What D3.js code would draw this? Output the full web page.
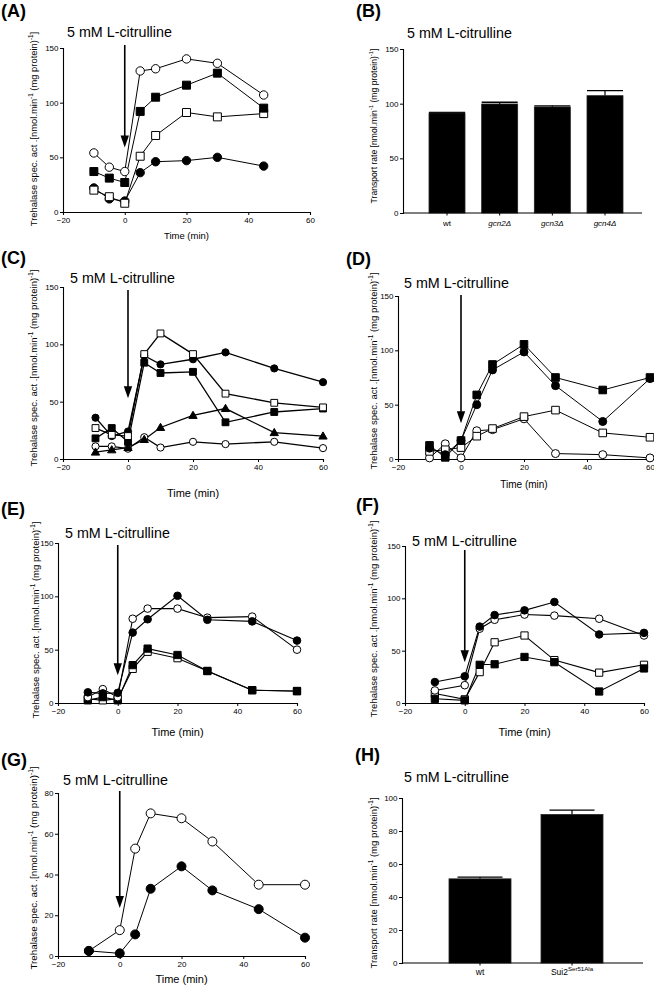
<!DOCTYPE html>
<html><head><meta charset="utf-8">
<script src="https://cdn.jsdelivr.net/npm/d3@7"></script>
<style>
body{margin:0;background:#fff}
svg{display:block}
text{font-family:'Liberation Sans',Arial,Helvetica,sans-serif;fill:#000}
</style>
</head><body>
<svg id="fig" width="654" height="985"></svg>
<script>
// ---------------- DATA ----------------
const xTickValues = [-20, 0, 20, 40, 60];
const yTicks150 = [0, 50, 100, 150];
const yTicks80 = [0, 20, 40, 60, 80];
const yTicks100 = [0, 20, 40, 60, 80, 100];
const treatmentLabel = "5 mM L-citrulline";
const timeLabel = "Time (min)";

// Panel A
const timesA = [-10, -5, 0, 5, 10, 20, 30, 45];
const A_openCircle   = [54, 41, 37, 129, 131, 140, 136, 107];
const A_filledSquare = [37, 31, 27, 92, 105, 116, 127, 95];
const A_openSquare   = [20, 14, 8, 51, 70, 91, 87, 90];
const A_filledCircle = [22, 12, 10, 36, 46, 47, 50, 42];

// Panel B
const B_categories = ["wt", "gcn2Δ", "gcn3Δ", "gcn4Δ"];
const B_values = [91.5, 99.7, 97, 107.3];
const B_errors = [0.4, 1.6, 1.0, 4.6];

// Panel C
const timesC = [-10, -5, 0, 5, 10, 20, 30, 45, 60];
const C_filledCircle   = [36, 20, 24, 90, 82.5, 87, 93, 79, 67];
const C_openSquare     = [27, 21, 20, 91.5, 109.5, 91.5, 57, 49, 45];
const C_filledSquare   = [18, 27, 15, 84, 75, 76, 32, 41, 44];
const C_filledTriangle = [6, 8, 10, 17, 27.5, 38, 44, 23, 20];
const C_openCircle     = [11, 11, 9, 19, 10, 15, 13, 15, 9.5];

// Panel D
const timesD = [-10, -5, 0, 5, 10, 20, 30, 45, 60];
const D_filledSquare = [12.5, 1.5, 17, 59, 87, 105.5, 75, 63.5, 75];
const D_filledCircle = [10, 4, 17, 50, 82, 98.5, 67.5, 34.5, 74];
const D_openSquare   = [7, 8.5, 10.5, 21, 28, 39, 45, 24, 20];
const D_openCircle   = [1, 14, 1, 26, 27, 37, 5, 4, 1];

// Panel E
const timesE = [-10, -5, 0, 5, 10, 20, 30, 45, 60];
const E_openSquare   = [4, 2.5, 4, 32, 48, 42, 30, 12, 11];
const E_filledSquare = [2.5, 5.5, 2.5, 35.5, 51, 45, 30, 12, 11.3];
const E_openCircle   = [5.5, 13, 5.5, 79, 88.5, 88.5, 80, 81, 50];
const E_filledCircle = [10, 9, 9.5, 66, 78.5, 100.5, 78, 76.5, 58.5];

// Panel F
const timesF = [-10, 0, 5, 10, 20, 30, 45, 60];
const F_openSquare   = [9, 3.5, 29.5, 58, 64.5, 41, 29, 36.5];
const F_filledSquare = [4, 2.5, 36.5, 37, 44, 39, 11, 33];
const F_openCircle   = [12, 17, 71, 79.5, 84.5, 83.5, 80.5, 64.5];
const F_filledCircle = [20, 25.5, 73, 84, 88.5, 96.5, 65.5, 67];

// Panel G
const timesG = [-10, 0, 5, 10, 20, 30, 45, 60];
const G_openCircle   = [2.5, 12.7, 52.7, 70, 67.6, 56.2, 35, 35];
const G_filledCircle = [2.5, 1.3, 10.6, 33, 44, 32.2, 23, 9];

// Panel H
const H_categories = ["wt", "Sui2"];
const H_superscripts = ["", "Ser51Ala"];
const H_values = [51, 90];
const H_errors = [1, 2.7];

// Arrow tips (value at which the arrow head points)
const arrowTips = {A: 59, C: 53, D: 33, E: 26, F: 39, G: 23.5};

// ---------------- DRAWING ----------------
const svg = d3.select("#fig");

function panelLetter(txt, x, y) {
  svg.append("text").attr("x", x).attr("y", y)
    .style("font-size", "18px").style("font-weight", "bold").text(txt);
}

function yTitle(x, y, size, prefix) {
  const t = svg.append("text")
    .attr("transform", `translate(${x},${y}) rotate(-90)`)
    .attr("text-anchor", "middle").style("font-size", size + "px");
  t.append("tspan").text(prefix + "[nmol.min");
  t.append("tspan").attr("dy", -size * 0.38).style("font-size", (size * 0.68) + "px").text("-1");
  t.append("tspan").attr("dy", size * 0.38).text(" (mg protein)");
  t.append("tspan").attr("dy", -size * 0.38).style("font-size", (size * 0.68) + "px").text("-1");
  t.append("tspan").attr("dy", size * 0.38).text("]");
}

function styleAxis(g) {
  g.select(".domain").attr("stroke", "#000").attr("stroke-width", 1.1);
  g.selectAll(".tick line").attr("stroke", "#000").attr("stroke-width", 1);
  g.selectAll(".tick text").style("font-size", "8px").attr("fill", "#000")
    .style("font-family", "'Liberation Sans',Arial,sans-serif");
}

function marker(g, shape, cx, cy, ms) {
  let type, size;
  if (shape.startsWith("circle")) { type = d3.symbolCircle; size = Math.PI * ms * ms; }
  else if (shape.startsWith("square")) { type = d3.symbolSquare; size = (ms * 1.9) * (ms * 1.9); }
  else { type = d3.symbolTriangle; size = ms * ms * 2.3; }
  const filled = shape.endsWith("Filled");
  g.append("path")
    .attr("d", d3.symbol().type(type).size(size)())
    .attr("transform", `translate(${cx},${cy + (type === d3.symbolTriangle ? 0.6 : 0)})`)
    .attr("fill", filled ? "#000" : "#fff")
    .attr("stroke", "#000").attr("stroke-width", 1);
}

function linePanel(o) {
  const x = d3.scaleLinear().domain([-20, 60]).range([o.x0, o.x1]);
  const y = d3.scaleLinear().domain([0, o.yMax]).range([o.yb, o.yt]);
  const gx = svg.append("g").attr("transform", `translate(0,${o.yb})`)
    .call(d3.axisBottom(x).tickValues(xTickValues).tickSizeOuter(0).tickSize(3).tickPadding(2));
  styleAxis(gx);
  const gy = svg.append("g").attr("transform", `translate(${o.x0},0)`)
    .call(d3.axisLeft(y).tickValues(o.yTicks).tickSizeOuter(0).tickSize(3).tickPadding(1.5));
  styleAxis(gy);

  const g = svg.append("g");
  o.series.forEach(s => {
    const pts = s.t.map((t, i) => [x(t), y(s.v[i])]);
    g.append("path").attr("d", d3.line()(pts))
      .attr("fill", "none").attr("stroke", "#000").attr("stroke-width", o.lw || 1);
  });
  o.series.forEach(s => {
    s.t.forEach((t, i) => marker(g, s.shape, x(t), y(s.v[i]), o.ms));
  });

  // arrow
  const ax = x(0), tipY = y(o.arrowTip);
  svg.append("line").attr("x1", ax).attr("x2", ax).attr("y1", o.arrowTop).attr("y2", tipY - 8)
    .attr("stroke", "#000").attr("stroke-width", 1.6);
  svg.append("path")
    .attr("d", `M${ax - 4.2},${tipY - 12} L${ax + 4.2},${tipY - 12} L${ax},${tipY} Z`)
    .attr("fill", "#000");

  svg.append("text").attr("x", o.tx).attr("y", o.ty).style("font-size", "14.3px").text(treatmentLabel);
  svg.append("text").attr("x", (o.x0 + o.x1) / 2).attr("y", o.timeY)
    .attr("text-anchor", "middle").style("font-size", o.timeSize + "px").text(timeLabel);
  yTitle(o.ytx, o.yty, o.ytSize, "Trehalase spec. act .");
}

function barPanel(o) {
  const x = d3.scalePoint().domain(o.cats).range([o.c0, o.c1]);
  const y = d3.scaleLinear().domain([0, o.yMax]).range([o.yb, o.yt]);
  const g = svg.append("g");
  o.vals.forEach((v, i) => {
    const cx = x(o.cats[i]);
    const top = y(v), etop = y(v + o.errs[i]);
    g.append("line").attr("x1", cx).attr("x2", cx).attr("y1", top).attr("y2", etop)
      .attr("stroke", "#000").attr("stroke-width", 1.2);
    g.append("line").attr("x1", cx - o.capW / 2).attr("x2", cx + o.capW / 2)
      .attr("y1", etop).attr("y2", etop).attr("stroke", "#000").attr("stroke-width", 1.3);
    g.append("rect").attr("x", cx - o.bw / 2).attr("y", top).attr("width", o.bw)
      .attr("height", o.yb - top).attr("fill", "#000").attr("stroke", "#222").attr("stroke-width", 0.8);
  });
  // x axis
  svg.append("line").attr("x1", o.x0).attr("x2", o.x1).attr("y1", o.yb).attr("y2", o.yb)
    .attr("stroke", "#000").attr("stroke-width", 1.1);
  o.cats.forEach((c, i) => {
    const cx = x(c);
    svg.append("line").attr("x1", cx).attr("x2", cx).attr("y1", o.yb).attr("y2", o.yb + 2.5)
      .attr("stroke", "#000").attr("stroke-width", 1);
    const t = svg.append("text").attr("x", cx).attr("y", o.yb + o.labDy)
      .attr("text-anchor", "middle").style("font-size", o.labSize + "px");
    if (o.italic && i > 0) t.style("font-style", "italic");
    t.append("tspan").text(c);
    if (o.sups && o.sups[i]) {
      t.append("tspan").attr("dy", -4).style("font-size", (o.labSize * 0.72) + "px").text(o.sups[i]);
    }
  });
  const gy = svg.append("g").attr("transform", `translate(${o.x0},0)`)
    .call(d3.axisLeft(y).tickValues(o.yTicks).tickSizeOuter(0).tickSize(3).tickPadding(1.5));
  styleAxis(gy);
  svg.append("text").attr("x", o.tx).attr("y", o.ty).style("font-size", "14.3px").text(treatmentLabel);
  yTitle(o.ytx, o.yty, o.ytSize, "Transport rate ");
}

// Panel A
panelLetter("(A)", 1, 17);
linePanel({
  x0: 63, x1: 310, yb: 212, yt: 48, yMax: 150, yTicks: yTicks150, ms: 4.2, lw: 1,
  series: [
    {t: timesA, v: A_filledCircle, shape: "circleFilled"},
    {t: timesA, v: A_openSquare, shape: "squareOpen"},
    {t: timesA, v: A_filledSquare, shape: "squareFilled"},
    {t: timesA, v: A_openCircle, shape: "circleOpen"}
  ],
  arrowTip: arrowTips.A, arrowTop: 45, tx: 67, ty: 37, timeY: 239, timeSize: 9.5,
  ytx: 36.5, yty: 129, ytSize: 9.4
});

// Panel B
panelLetter("(B)", 356, 17);
barPanel({
  cats: B_categories, vals: B_values, errs: B_errors, c0: 447, c1: 605, bw: 36, capW: 36,
  x0: 403, x1: 642, yb: 213, yt: 49, yMax: 150, yTicks: yTicks150, italic: true,
  labDy: 13, labSize: 8, tx: 407, ty: 38, ytx: 376.5, yty: 126, ytSize: 8.6
});

// Panel C
panelLetter("(C)", 1, 264);
linePanel({
  x0: 63, x1: 323, yb: 459, yt: 287, yMax: 150, yTicks: yTicks150, ms: 3.6, lw: 1.3,
  series: [
    {t: timesC, v: C_openCircle, shape: "circleOpen"},
    {t: timesC, v: C_filledTriangle, shape: "triangleFilled"},
    {t: timesC, v: C_filledSquare, shape: "squareFilled"},
    {t: timesC, v: C_filledCircle, shape: "circleFilled"},
    {t: timesC, v: C_openSquare, shape: "squareOpen"}
  ],
  arrowTip: arrowTips.C, arrowTop: 290, tx: 70, ty: 283, timeY: 497, timeSize: 11,
  ytx: 36.5, yty: 368, ytSize: 9.5
});

// Panel D
panelLetter("(D)", 346, 265);
linePanel({
  x0: 398, x1: 650, yb: 459, yt: 296, yMax: 150, yTicks: yTicks150, ms: 4, lw: 1,
  series: [
    {t: timesD, v: D_openCircle, shape: "circleOpen"},
    {t: timesD, v: D_openSquare, shape: "squareOpen"},
    {t: timesD, v: D_filledCircle, shape: "circleFilled"},
    {t: timesD, v: D_filledSquare, shape: "squareFilled"}
  ],
  arrowTip: arrowTips.D, arrowTop: 295, tx: 404, ty: 288, timeY: 488, timeSize: 10,
  ytx: 376.5, yty: 371, ytSize: 9.5
});

// Panel E
panelLetter("(E)", 1, 515);
linePanel({
  x0: 58, x1: 297, yb: 703, yt: 543, yMax: 150, yTicks: yTicks150, ms: 3.8, lw: 1.1,
  series: [
    {t: timesE, v: E_openSquare, shape: "squareOpen"},
    {t: timesE, v: E_filledSquare, shape: "squareFilled"},
    {t: timesE, v: E_openCircle, shape: "circleOpen"},
    {t: timesE, v: E_filledCircle, shape: "circleFilled"}
  ],
  arrowTip: arrowTips.E, arrowTop: 545, tx: 65, ty: 538, timeY: 736, timeSize: 11,
  ytx: 38.5, yty: 620, ytSize: 9.5
});

// Panel F
panelLetter("(F)", 356, 511);
linePanel({
  x0: 405, x1: 644, yb: 703, yt: 546, yMax: 150, yTicks: yTicks150, ms: 3.8, lw: 1.1,
  series: [
    {t: timesF, v: F_openSquare, shape: "squareOpen"},
    {t: timesF, v: F_filledSquare, shape: "squareFilled"},
    {t: timesF, v: F_openCircle, shape: "circleOpen"},
    {t: timesF, v: F_filledCircle, shape: "circleFilled"}
  ],
  arrowTip: arrowTips.F, arrowTop: 550, tx: 412, ty: 546, timeY: 736, timeSize: 11,
  ytx: 376.5, yty: 619, ytSize: 9.5
});

// Panel G
panelLetter("(G)", 1, 766);
linePanel({
  x0: 58, x1: 305, yb: 956, yt: 793, yMax: 80, yTicks: yTicks80, ms: 4.5, lw: 1,
  series: [
    {t: timesG, v: G_openCircle, shape: "circleOpen"},
    {t: timesG, v: G_filledCircle, shape: "circleFilled"}
  ],
  arrowTip: arrowTips.G, arrowTop: 791, tx: 63, ty: 785, timeY: 983, timeSize: 11,
  ytx: 36.5, yty: 868, ytSize: 9.8
});

// Panel H
panelLetter("(H)", 355, 761);
barPanel({
  cats: H_categories, vals: H_values, errs: H_errors, sups: H_superscripts,
  c0: 480, c1: 572, bw: 62, capW: 45,
  x0: 402, x1: 643, yb: 963, yt: 798, yMax: 100, yTicks: yTicks100, italic: false,
  labDy: 12, labSize: 8.5, tx: 404, ty: 782, ytx: 376.5, yty: 883, ytSize: 9.5
});
</script>
</body></html>
